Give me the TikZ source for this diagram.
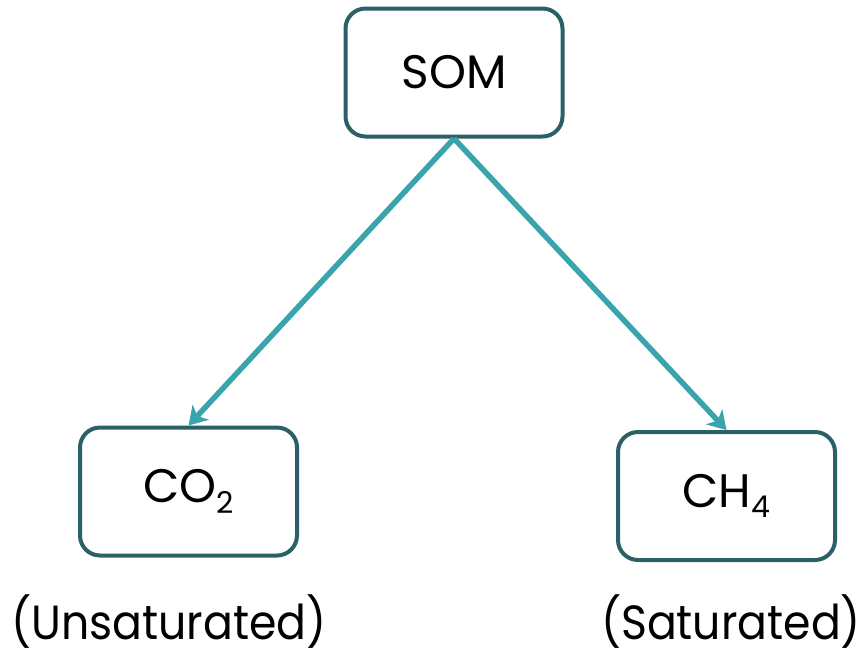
\documentclass[tikz,border=0pt]{standalone}
\usepackage{fontspec}
\setmainfont{Poppins}
\newfontfamily\lblfont[FakeStretch=0.92]{Poppins}
\usetikzlibrary{arrows.meta}
\definecolor{boxline}{RGB}{42,96,102}
\definecolor{arrowc}{RGB}{58,164,173}
\newcommand{\mysub}[1]{\raisebox{-0.22em}{\fontsize{30}{30}\selectfont #1}}
\tikzset{
  box/.style={draw=boxline, line width=4pt, rounded corners=20pt, fill=white,
    minimum width=217pt, minimum height=128pt, inner sep=0pt,
    font=\fontsize{47}{50}\selectfont},
  lbl/.style={inner sep=0pt, font=\lblfont\fontsize{48}{52}\selectfont, anchor=base},
  conn/.style={draw=arrowc, line width=5.5pt,
    -{Stealth[length=18pt,width=22pt,inset=5pt]}}
}
\begin{document}
\begin{tikzpicture}[x=1pt,y=-1pt]
\useasboundingbox (0,0) rectangle (866,659);
\node[box] (som) at (454,72.5) {SOM};
\node[box] (co2) at (188.5,491.5) {CO\mysub{2}};
\node[box] (ch4) at (726.5,496) {CH\mysub{4}};
\node[lbl] (uns) at (169,639) {(Unsaturated)};
\node[lbl] (sat) at (731,639) {(Saturated)};
\draw[conn] (som.south) -- (co2.north);
\draw[conn] (som.south) -- (ch4.north);
\end{tikzpicture}
\end{document}
